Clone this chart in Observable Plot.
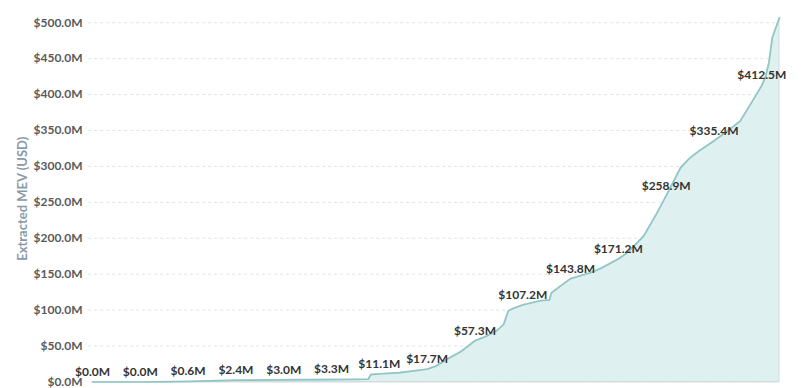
<!DOCTYPE html>
<html>
<head>
<meta charset="utf-8">
<script src="https://cdn.jsdelivr.net/npm/d3@7"></script>
<script src="https://cdn.jsdelivr.net/npm/@observablehq/plot@0.6"></script>
<style>
  html, body { margin: 0; padding: 0; background: #fff; }
  #chart { width: 805px; height: 388px; position: relative; }
  #chart svg { display: block; }
</style>
</head>
<body>
<div id="chart"></div>
<script>
// Cumulative extracted MEV, x = months since Jan 2020
const curveMonths = [0, 1, 1.42, 2, 2.47, 3, 4, 5, 5.77, 5.82, 6, 6.44, 7, 7.18, 7.43, 7.7, 8, 8.22, 8.47, 8.6, 8.7, 8.79, 9, 9.37, 9.56, 9.6, 10, 10.42, 10.63, 11, 11.19, 11.53, 11.8, 12, 12.3, 12.5, 12.7, 13, 13.3, 13.55, 13.77, 14, 14.08, 14.15, 14.22, 14.37];
const curveValues = [0, 0, 0.2, 0.6, 1.5, 2.4, 3.0, 3.3, 3.8, 10.2, 11.1, 13, 17.7, 22, 32, 42, 57.3, 63, 72, 80, 99, 102, 107.2, 113, 114, 124, 143.8, 152, 158, 171.2, 180, 203, 234, 258.9, 298, 312, 322, 335.4, 350, 363, 387, 412.5, 425, 444, 479, 507];

// Monthly labels
const labelMonths = [0, 1, 2, 3, 4, 5, 6, 7, 8, 9, 10, 11, 12, 13, 14];
const labelValues = [0.0, 0.0, 0.6, 2.4, 3.0, 3.3, 11.1, 17.7, 57.3, 107.2, 143.8, 171.2, 258.9, 335.4, 412.5];

const yTicks = [0, 50, 100, 150, 200, 250, 300, 350, 400, 450, 500];
const yTitle = "Extracted MEV (USD)";

const curve = curveMonths.map((m, i) => ({m, v: curveValues[i]}));
const labels = labelMonths.map((m, i) => ({m, v: labelValues[i]}));
const fmt = d => `$${d.toFixed(1)}M`;

const chart = Plot.plot({
  width: 805,
  height: 388,
  marginLeft: 92,
  marginRight: 26,
  marginTop: 15,
  marginBottom: 6.5,
  style: {fontFamily: "Lato, 'Open Sans', sans-serif", background: "#fff"},
  x: {domain: [0, 14.37], axis: null},
  y: {domain: [0, 510]},
  marks: [
    Plot.ruleY(yTicks.filter(d => d > 0), {x1: -0.08, x2: 14.37, stroke: "#e3e3e3", strokeDasharray: "3,3", strokeWidth: 1}),
    Plot.areaY(curve, {x: "m", y: "v", fill: "#dff0f0", stroke: "#d3dcdc", strokeWidth: 1}),
    Plot.ruleY([0], {stroke: "#d3dcdc", strokeWidth: 1}),
    Plot.lineY(curve, {x: "m", y: "v", stroke: "#8ec6c5", strokeWidth: 1.6}),
    Plot.axisY({ticks: yTicks, tickFormat: fmt, tickSize: 0, tickPadding: 10, fontSize: 12, fontWeight: "bold", fill: "#5a5a5a", label: null}),
    Plot.text([yTitle], {frameAnchor: "left", textAnchor: "middle", dx: -70, rotate: -90, fontSize: 13, fontWeight: "bold", fill: "#8a9aa8"}),
    Plot.text(labels, {x: "m", y: "v", text: d => fmt(d.v), dy: -10, fontSize: 12, fontWeight: "bold", fill: "#333"})
  ]
});
document.getElementById("chart").appendChild(chart);
</script>
</body>
</html>
